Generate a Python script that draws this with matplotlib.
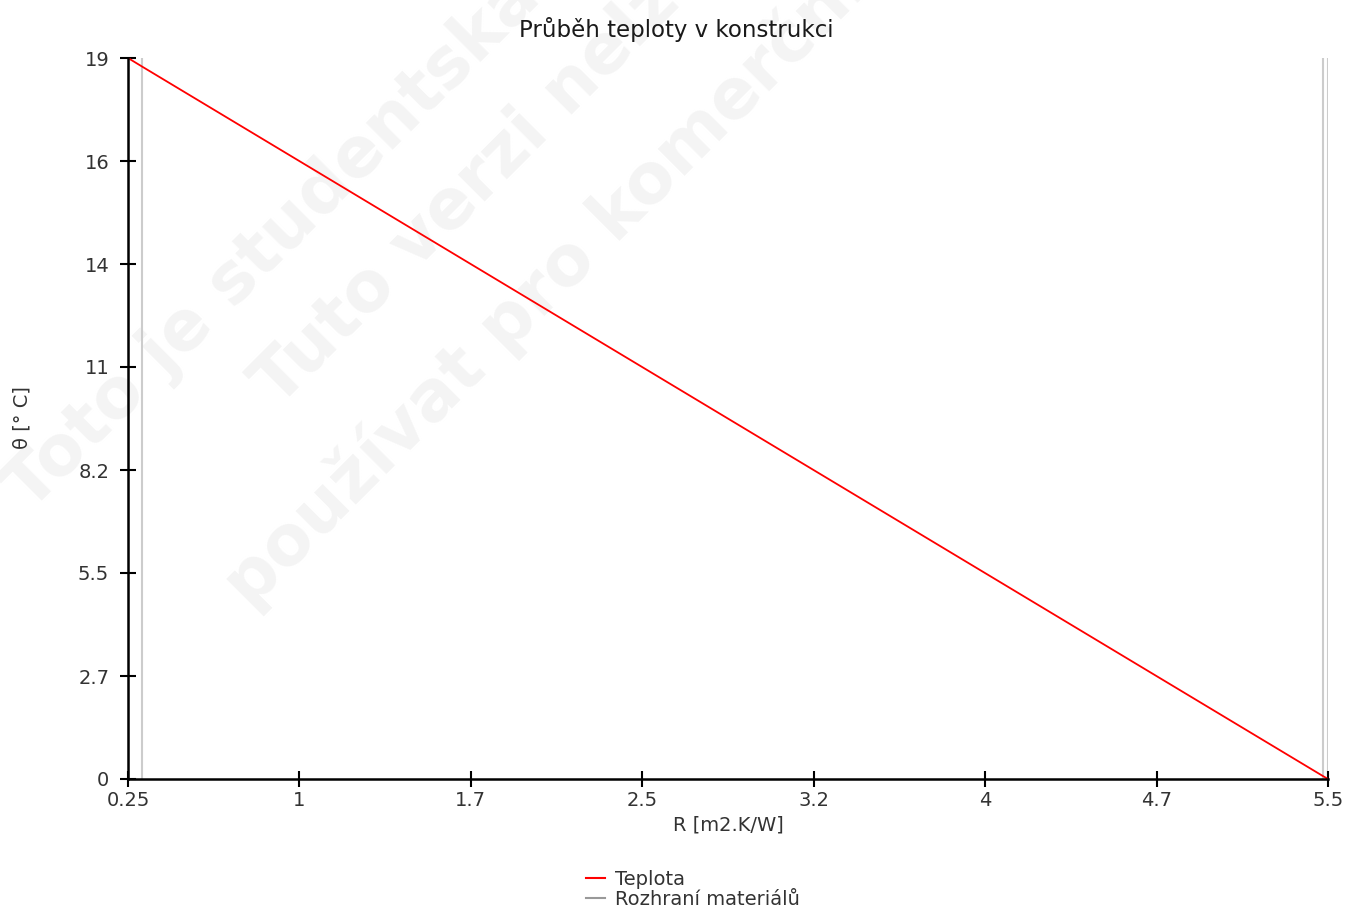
import matplotlib
matplotlib.use('Agg')
import matplotlib.pyplot as plt
from matplotlib.lines import Line2D

# data
R = [0.25, 0.31, 5.48, 5.5]           # m2.K/W
theta = [19.0, 18.78, 0.07, 0.0]      # degC
interfaces = [0.25, 0.31, 5.48, 5.5]  # material boundaries

xticks = [0.25, 1.0, 1.75, 2.5, 3.25, 4.0, 4.75, 5.5]
xticklabels = ['0.25', '1', '1.7', '2.5', '3.2', '4', '4.7', '5.5']
yticks = [0, 19/7, 2*19/7, 3*19/7, 4*19/7, 5*19/7, 6*19/7, 19]
yticklabels = ['0', '2.7', '5.5', '8.2', '11', '14', '16', '19']

W, H = 1361, 914
fig = plt.figure(figsize=(W/100, H/100), dpi=100)
ax = fig.add_axes([128/W, (H-779)/H, (1328-128)/W, (779-58)/H])

# watermark behind everything
wm_color = '#f4f4f4'
wm = [("Toto je studentská verze", 30, 512),
      ("Tuto verzi nelze", 278, 408),
      ("používat pro komerční účely", 250, 610)]
for txt, px, py in wm:
    fig.text(px/W, 1-py/H, txt, rotation=45, rotation_mode='anchor',
             ha='left', va='baseline', fontsize=50, fontweight='bold',
             color=wm_color, zorder=-1)

ax.set_facecolor('none')

for xi in interfaces:
    ax.axvline(xi, color='#cccccc', lw=1.5, zorder=1)
ax.plot(R, theta, color='red', lw=1.3, zorder=3)

ax.set_xlim(0.25, 5.5)
ax.set_ylim(0, 19)
ax.set_xticks(xticks)
ax.set_xticklabels(xticklabels)
ax.set_yticks(yticks)
ax.set_yticklabels(yticklabels)

for s in ['top', 'right']:
    ax.spines[s].set_visible(False)
for s in ['left', 'bottom']:
    ax.spines[s].set_linewidth(1.8)
    ax.spines[s].set_color('black')
    ax.spines[s].set_zorder(4)

ax.tick_params(direction='inout', length=11, width=1.5, color='black',
               labelsize=14, labelcolor='#333333', pad=3)
ax.tick_params(axis='y', pad=8)

ax.set_xlabel('R [m2.K/W]', fontsize=14, color='#333333', labelpad=4)
fig.text(22/W, 1-418/H, 'θ [° C]', rotation=90, ha='center', va='center',
         fontsize=14, color='#333333')
fig.text(676/W, 1-30/H, 'Průběh teploty v konstrukci', ha='center',
         va='center', fontsize=16.5, color='#1a1a1a')

handles = [Line2D([], [], color='red', lw=1.5),
           Line2D([], [], color='#999999', lw=1.5)]
fig.legend(handles, ['Teplota', 'Rozhraní materiálů'],
           loc='upper left', bbox_to_anchor=(576/W, 1-860/H),
           frameon=False, fontsize=14, handlelength=1.0,
           handletextpad=0.5, labelspacing=0.05, borderpad=0,
           labelcolor='#333333')

fig.savefig('out.png', dpi=100)
